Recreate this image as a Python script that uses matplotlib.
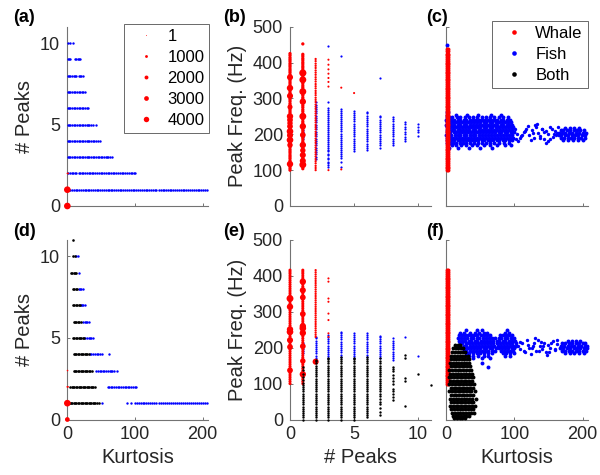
import numpy as np
import matplotlib
matplotlib.use('Agg')
import matplotlib.pyplot as plt
from matplotlib.lines import Line2D

plt.rcParams['font.family'] = ['Liberation Sans', 'DejaVu Sans']

RED, BLUE, BLACK = '#ff0000', '#0000ff', '#000000'

# ---------------- (a) # peaks vs kurtosis ----------------
a_fish_peaks = [1, 2, 3, 4, 5, 6, 7, 8, 9, 10]
a_fish_kurt = [
    [3, 5, 8, 10, 13, 15, 18, 20, 23, 26, 28, 31, 33, 36, 38, 41, 44, 46, 49, 51, 54, 57, 60, 62, 65, 67,
     70, 73, 75, 78, 80, 83, 86, 89, 91, 94, 97, 99, 102, 105, 108, 110, 113, 116, 118, 121, 124, 127, 130,
     132, 135, 138, 141, 143, 146, 149, 152, 154, 157, 160, 162, 165, 168, 171, 173, 176, 179, 182, 184,
     187, 190, 193, 195, 198, 201, 204, 206],
    [2, 4, 7, 9, 12, 14, 17, 19, 22, 24, 27, 29, 32, 34, 37, 39, 42, 44, 47, 50, 52, 55, 57, 60, 62, 65,
     68, 70, 73, 75, 78, 81, 83, 86, 88, 91, 94, 96, 99, 101],
    [1, 3, 5, 8, 10, 12, 15, 17, 19, 22, 24, 26, 29, 31, 33, 36, 38, 40, 43, 45, 47, 50, 52, 54, 57, 59,
     61, 64, 66],
    [1, 3, 5, 8, 10, 12, 15, 17, 19, 22, 24, 26, 29, 31, 33, 36, 38, 40, 43, 45, 48],
    [1, 3, 5, 8, 10, 12, 15, 17, 19, 22, 24, 26, 29, 31, 33, 36, 38, 43],
    [1, 3, 5, 8, 10, 12, 15, 17, 19, 22, 24, 26, 29, 31],
    [1, 3, 5, 8, 10, 12, 15, 17, 19, 22, 24, 26],
    [1, 3, 5, 8, 10, 12, 14, 17, 19, 21, 23],
    [1, 3, 4, 12, 14, 16, 18, 19],
    [1, 4, 9],
]
a_whale_kurt = [0.5, 0.5, 0.6, 1.8]
a_whale_peaks = [0, 1, 2, 2]
a_whale_count = [6000, 6000, 250, 250]

# ---------------- (b) peak freq vs # peaks ----------------
b_fish_peaks = [1, 2, 3, 4, 5, 6, 7, 8, 9, 10]
b_fish_hz = [
    [186, 192, 198, 205, 211],
    [132, 138, 145, 151, 157, 163, 170, 176, 182, 188, 195, 201, 207, 214, 220, 226, 233, 239, 245, 251,
     258, 264, 270, 277, 283, 290],
    [108, 113, 119, 124, 130, 135, 141, 146, 152, 157, 163, 168, 174, 179, 185, 190, 196, 201, 207, 212,
     218, 223, 229, 234, 240, 245, 251, 256, 262, 267, 272, 289, 447],
    [110, 124, 133, 139, 145, 150, 156, 162, 168, 173, 179, 185, 191, 196, 202, 208, 214, 219, 225, 231,
     237, 242, 248, 254, 260, 265, 270, 417],
    [152, 158, 164, 170, 176, 182, 188, 194, 200, 206, 212, 218, 224, 230, 236, 242, 248, 254, 260, 266],
    [156, 162, 168, 174, 180, 186, 192, 198, 204, 210, 216, 222, 228, 234, 240, 246, 252, 258, 261],
    [163, 169, 175, 181, 187, 193, 199, 205, 211, 217, 223, 229, 235, 241, 247, 250, 357],
    [170, 176, 182, 188, 194, 200, 206, 212, 218, 224, 230, 236, 242, 248],
    [180, 186, 193, 200, 207, 214, 221, 228, 235],
    [196, 205, 213, 221, 229],
]
b_whale_peaks = [0, 1, 2, 3, 4, 5]
b_whale_hz = [
    [100, 105, 110, 116, 121, 126, 132, 137, 142, 148, 153, 158, 164, 169, 174, 180, 185, 190, 196, 201,
     206, 212, 217, 222, 228, 233, 238, 244, 249, 254, 260, 265, 270, 276, 281, 286, 292, 297, 302, 308,
     313, 318, 324, 329, 334, 340, 345, 350, 356, 361, 366, 372, 377, 382, 388, 393, 398, 404, 409, 414,
     420, 425],
    [104, 110, 115, 121, 126, 132, 137, 143, 148, 154, 159, 165, 170, 176, 181, 187, 192, 198, 203, 209,
     214, 220, 225, 231, 236, 242, 247, 253, 258, 264, 269, 275, 280, 286, 291, 297, 302, 308, 313, 319,
     324, 330, 335, 341, 346, 352, 357, 363, 368, 374, 379, 385, 390, 396, 401, 407, 412, 418, 423, 452],
    [100, 106, 112, 119, 125, 131, 138, 144, 150, 157, 163, 169, 176, 182, 188, 195, 201, 207, 214, 220,
     226, 233, 239, 245, 252, 258, 264, 271, 277, 283, 290, 296, 302, 309, 315, 321, 328, 334, 340, 347,
     353, 359, 366, 372, 378, 385, 391, 397, 404, 410],
    [100, 333, 346, 357, 369, 381, 394, 408],
    [102, 330],
    [315],
]
b_whale_small_count = [1400, 1400, 600, 500, 500, 500]
b_big_peaks = [0] * 13 + [1] * 12
b_big_hz = [117, 170, 184, 197, 208, 222, 231, 240, 250, 276, 307, 329, 359,
            115, 126, 142, 155, 170, 198, 222, 250, 291, 319, 352, 371]
b_big_count = [5500, 4000, 6000, 5000, 6000, 4500, 4000, 4500, 5500, 3500, 5000, 5500, 5000,
               6500, 5000, 5000, 4000, 5500, 4500, 5500, 6500, 5500, 6500, 6500, 7000]

# ---------------- (c) peak freq vs kurtosis ----------------
c_whale_kurt = [0.8, 2.2]
c_whale_hz = [100, 105, 110, 115, 120, 125, 130, 135, 140, 145, 150, 155, 160, 165, 170, 175, 180, 185,
              190, 195, 200, 205, 210, 215, 220, 225, 230, 235, 240, 245, 250, 255, 260, 265, 270, 275,
              280, 285, 290, 295, 300, 305, 310, 315, 320, 325, 330, 335, 340, 345, 350, 355, 360, 365,
              370, 375, 380, 385, 390, 395, 400, 405, 410, 415, 420, 425, 431, 437]
c_fish_rows_hz = [450, 262, 254, 247, 240, 233, 226, 219, 212, 205, 198, 191, 184, 177, 170, 162,
                  218, 211, 204, 197, 190, 183]
c_fish_rows_kurt = [
    [1],
    [1.5, 3],
    [2, 14, 31, 47, 66, 80],
    [1, 5, 9, 16, 21, 28, 34, 40, 46, 53, 58, 64, 70, 77, 84, 91],
    [0.5, 4, 8, 12, 17, 21, 26, 30, 35, 39, 44, 48, 53, 57, 62, 66, 71, 75, 80, 84, 89, 94],
    [2, 6, 10, 14, 19, 23, 28, 32, 37, 41, 46, 50, 55, 59, 64, 68, 73, 77, 82, 86, 91, 95],
    [0.5, 4, 8, 12, 17, 21, 26, 30, 35, 39, 44, 48, 53, 57, 62, 66, 71, 75, 80, 84, 89, 93, 97],
    [2, 6, 10, 14, 19, 23, 28, 32, 37, 41, 46, 50, 55, 59, 64, 68, 73, 77, 82, 86, 91, 95, 98],
    [1, 4, 9, 12, 17, 21, 25, 30, 34, 39, 43, 48, 52, 57, 61, 66, 70, 75, 79, 84, 88, 93, 97],
    [2, 6, 11, 15, 19, 24, 28, 32, 37, 41, 45, 50, 54, 59, 63, 68, 72, 77, 81, 86, 90, 95, 99],
    [0.5, 4, 8, 13, 17, 21, 26, 30, 35, 39, 43, 48, 52, 57, 61, 66, 70, 74, 79, 83, 88, 92, 97],
    [2, 6, 10, 15, 19, 23, 28, 32, 36, 41, 45, 50, 54, 59, 63, 67, 72, 76, 81, 85, 90, 94, 98],
    [1, 4, 8, 12, 17, 21, 25, 30, 34, 38, 43, 47, 52, 56, 61, 65, 69, 74, 78, 83, 87, 92, 96],
    [2, 6, 10, 15, 20, 25, 30, 35, 41, 47, 53, 59, 65, 71, 78, 85, 92],
    [3, 9, 15, 22, 30, 38, 46, 55, 64, 74, 86, 95],
    [5, 18, 33, 50, 68],
    [174, 181, 188, 195],
    [168, 172, 177, 182, 187, 192, 197, 202],
    [166, 170, 175, 180, 185, 190, 195, 200, 205],
    [165, 169, 174, 179, 184, 189, 194, 199, 204],
    [168, 173, 178, 183, 188, 193, 198, 203],
    [171, 178, 186, 194, 201],
]
c_fish_tail_kurt = [101, 103, 105, 108, 111, 114, 117, 120, 104, 110, 116, 122, 126, 129, 132, 135, 138,
                    141, 144, 147, 150, 153, 156, 159, 162, 125, 131, 137, 143, 149, 155, 161, 128, 140,
                    152, 164, 134, 146, 158]
c_fish_tail_hz = [214, 186, 180, 190, 198, 206, 215, 223, 202, 195, 208, 199, 212, 190, 221, 204, 196,
                  214, 187, 208, 200, 219, 193, 210, 204, 183, 226, 191, 205, 180, 214, 197, 204, 216,
                  188, 221, 230, 176, 202]

# ---------------- (d) # peaks vs kurtosis, with 'Both' ----------------
d_fish_peaks = [1, 2, 3, 4, 5, 6, 7, 8, 9, 10]
d_fish_kurt = [
    [52, 88, 94, 100, 103, 106, 109, 112, 114, 117, 120, 123, 126, 129, 132, 135, 138, 141, 144, 147, 150,
     153, 156, 159, 162, 165, 168, 171, 174, 177, 180, 183, 186, 189, 192, 195, 198, 201, 204, 206],
    [60, 62, 65, 67, 70, 72, 75, 77, 80, 82, 85, 87, 90, 92, 95, 97, 100, 102],
    [43, 45, 48, 50, 53, 55, 58, 60, 63, 65, 67, 69, 74],
    [34, 36, 39, 41, 44, 46, 48, 51, 62],
    [27, 29, 32, 34, 36, 39],
    [24, 26, 28, 30, 32],
    [20, 22, 24, 27],
    [17, 19, 21, 24],
    [17],
    [14, 16],
]
d_both_peaks = [1, 2, 3, 4, 5, 6, 7, 8, 9, 10, 11]
d_both_kurt = [
    [4, 6, 8, 10, 12, 14, 16, 18, 20, 22, 24, 26, 28, 30, 32, 34, 36, 38, 40, 42, 44, 47],
    [5, 7, 9, 11, 13, 15, 17, 19, 21, 23, 25, 27, 29, 31, 33, 35, 37, 39, 42],
    [10, 12, 14, 16, 18, 20, 22, 24, 26, 28, 30, 32, 34, 37],
    [10, 12, 14, 16, 18, 20, 22, 24, 26, 28, 30, 32],
    [9, 11, 13, 15, 17, 19, 21, 23, 25],
    [10, 12, 14, 16, 18, 21],
    [9, 11, 13, 15, 17, 19],
    [9, 11, 13, 15],
    [6, 8, 10, 12, 14],
    [9, 12],
    [9],
]
d_whale_kurt = [0.5, 0.5, 0.5, 1.5, 0.8]
d_whale_peaks = [0, 1, 2, 2, 3]
d_whale_count = [3000, 6000, 300, 300, 250]

# ---------------- (e) peak freq vs # peaks, with 'Both' ----------------
e_fish_peaks = [1, 2, 3, 4, 5, 6, 7, 8, 9, 10]
e_fish_hz = [
    [184, 190, 196, 202, 208, 213],
    [166, 172, 178, 184, 190, 196, 202, 208, 214, 220, 226, 231],
    [170, 176, 182, 188, 194, 200, 206, 212, 218, 224, 230, 235],
    [175, 181, 187, 193, 199, 205, 211, 217, 223, 229, 235, 241, 244],
    [170, 176, 182, 188, 194, 200, 206, 212, 218, 224, 230, 236, 242],
    [175, 181, 187, 193, 199, 205, 211, 217, 223, 229, 235, 240],
    [170, 176, 182, 188, 194, 200, 206, 212, 218, 224, 229, 232],
    [165, 171, 177, 183, 189, 195, 201, 207, 213, 219, 226],
    [231],
    [177],
]
e_both_peaks = [1, 2, 3, 4, 5, 6, 7, 8, 9, 10, 11]
e_both_hz = [
    [0, 6, 12, 18, 24, 30, 36, 42, 48, 54, 60, 66, 72, 78, 84, 90, 96, 102, 110, 118, 128, 138, 147],
    [0, 6, 12, 18, 24, 30, 36, 42, 48, 54, 60, 66, 72, 78, 84, 90, 96, 102, 108, 114, 120, 126, 132, 138,
     144, 150, 156, 162, 165],
    [0, 6, 12, 18, 24, 30, 36, 42, 48, 54, 60, 66, 72, 78, 84, 90, 96, 102, 108, 114, 120, 126, 132, 138,
     144, 150, 156, 162, 168, 170],
    [0, 6, 12, 18, 24, 30, 36, 42, 48, 54, 60, 66, 72, 78, 84, 90, 96, 102, 108, 114, 120, 126, 132, 138,
     144, 150, 156, 162, 168, 175],
    [0, 6, 12, 18, 24, 30, 36, 42, 48, 54, 60, 66, 72, 78, 84, 90, 96, 102, 108, 114, 120, 126, 132, 138,
     144, 150, 156, 162, 168, 170],
    [7, 12, 18, 24, 30, 36, 42, 48, 54, 60, 66, 72, 78, 84, 90, 96, 102, 108, 114, 120, 126, 132, 138,
     144, 150, 156, 162, 168, 175],
    [12, 22, 32, 42, 50, 58, 66, 72, 78, 84, 90, 96, 102, 108, 114, 120, 126, 132, 138, 144, 150, 156,
     162, 170],
    [54, 62, 70, 78, 86, 100, 108, 116, 124, 134, 140, 147],
    [37, 108, 116, 171, 180],
    [127],
    [96],
]
e_whale_peaks = [0, 1, 2, 3]
e_whale_hz = [
    [100, 106, 112, 118, 124, 130, 136, 142, 148, 154, 160, 166, 172, 178, 184, 190, 196, 202, 208, 214,
     220, 226, 232, 238, 244, 250, 256, 262, 268, 274, 280, 286, 292, 298, 304, 310, 316, 322, 328, 334,
     340, 346, 352, 358, 364, 370, 376, 382, 388, 394, 400, 406, 411, 416],
    [100, 106, 112, 118, 124, 130, 136, 142, 148, 154, 160, 166, 172, 178, 184, 190, 196, 202, 208, 214,
     220, 226, 232, 238, 244, 250, 256, 262, 268, 274, 280, 286, 292, 298, 304, 310, 316, 322, 328, 334,
     340, 346, 352, 358, 364, 370, 376, 382, 388, 394, 400, 406, 411, 416],
    [230, 236, 242, 248, 254, 260, 266, 272, 278, 284, 290, 296, 302, 308, 314, 320, 326, 332, 338, 344,
     350, 356, 362, 368, 374, 380, 386, 392, 398, 404, 410, 416],
    [230, 240, 277, 295, 328, 337, 384, 393],
]
e_whale_small_count = [1200, 1200, 600, 500]
e_big_peaks = [0] * 7 + [1] * 10 + [2]
e_big_hz = [137, 202, 221, 244, 251, 314, 337,
            126, 163, 204, 241, 254, 260, 294, 340, 360, 384, 161]
e_big_count = [4500, 4500, 5000, 6000, 5500, 5500, 6500,
               5500, 4000, 4500, 5500, 6000, 5500, 4500, 4500, 5000, 5500, 5000]

# ---------------- (f) peak freq vs kurtosis, with 'Both' ----------------
f_whale_kurt = [0.8, 2.2]
f_whale_hz = [100, 105, 110, 115, 120, 125, 130, 135, 140, 145, 150, 155, 160, 165, 170, 175, 180, 185,
              190, 195, 200, 205, 210, 215, 220, 225, 230, 235, 240, 245, 250, 255, 260, 265, 270, 275,
              280, 285, 290, 295, 300, 305, 310, 315, 320, 325, 330, 335, 340, 345, 350, 355, 360, 365,
              370, 375, 380, 385, 390, 395, 400, 405, 410, 416]
f_fish_rows_hz = [248, 241, 234, 227, 220, 213, 206, 199, 192, 185, 178, 170, 158, 145,
                  220, 213, 206, 199, 192, 185]
f_fish_rows_kurt = [
    [30, 46, 52, 90],
    [21, 27, 35, 43, 49, 55, 60, 87, 93],
    [19, 23, 28, 32, 37, 41, 46, 51, 55, 60, 64, 79, 84, 88, 93, 97],
    [18, 22, 27, 31, 36, 40, 45, 49, 54, 58, 63, 67, 72, 77, 81, 86, 90, 95, 99],
    [19, 24, 28, 33, 37, 42, 46, 51, 55, 60, 64, 69, 74, 78, 83, 87, 92, 96, 101],
    [20, 24, 29, 33, 38, 42, 47, 51, 56, 60, 65, 69, 74, 79, 83, 88, 92, 97, 102],
    [21, 26, 30, 35, 39, 44, 48, 53, 57, 62, 66, 71, 76, 80, 85, 89, 94, 98, 103],
    [23, 28, 32, 37, 41, 46, 50, 55, 59, 64, 68, 73, 78, 82, 87, 91, 96, 100],
    [26, 30, 35, 39, 44, 48, 53, 57, 62, 67, 72, 80, 85, 89, 94, 98],
    [29, 34, 39, 45, 50, 56, 61, 67, 83, 88, 94, 99],
    [33, 40, 47, 55, 62, 86, 94],
    [40, 52, 64],
    [52],
    [61],
    [178, 184, 190, 196],
    [170, 175, 180, 185, 190, 195, 200, 204],
    [168, 173, 178, 183, 188, 193, 198, 203, 207],
    [167, 172, 177, 182, 187, 192, 197, 202, 206],
    [170, 175, 180, 185, 190, 195, 200, 205],
    [174, 181, 188, 195, 202],
]
f_fish_tail_kurt = [106, 109, 112, 115, 118, 121, 108, 114, 120, 126, 129, 132, 135, 138, 141, 144,
                    147, 150, 153, 156, 159, 162, 124, 130, 136, 142, 148, 154, 160, 127, 139, 151, 163]
f_fish_tail_hz = [204, 196, 213, 187, 221, 200, 216, 192, 208, 199, 212, 190, 222, 204, 196, 214, 187,
                  208, 200, 219, 193, 210, 183, 226, 191, 205, 181, 214, 197, 204, 216, 188, 221]
f_both_rows_hz = [207, 198, 188, 178, 168, 158, 148, 138, 128, 118, 108, 98, 88, 78, 68, 58, 48, 38,
                  28, 18, 9, 3]
f_both_rows_kurt = [
    [13, 17, 21],
    [10, 14, 18, 22, 25],
    [9, 13, 17, 21, 25, 28],
    [8, 12, 16, 20, 24, 28, 32],
    [7, 11, 15, 19, 23, 27, 31, 34],
    [6, 10, 14, 18, 22, 26, 30, 34],
    [7, 11, 15, 19, 23, 27, 31, 35],
    [5, 9, 13, 17, 21, 25, 29, 33, 37],
    [6, 10, 14, 18, 22, 26, 30, 34, 38],
    [4, 8, 12, 16, 20, 24, 28, 32, 36, 40],
    [6, 10, 14, 18, 22, 26, 30, 34, 38],
    [5, 9, 13, 17, 21, 25, 29, 33, 37, 41],
    [7, 11, 15, 19, 23, 27, 31, 35, 39],
    [5, 9, 13, 17, 21, 25, 29, 33, 37, 42],
    [7, 11, 15, 19, 23, 27, 31, 35, 39],
    [6, 10, 14, 18, 22, 26, 30, 34, 38, 44],
    [8, 12, 16, 20, 24, 28, 32, 36, 40],
    [6, 10, 14, 18, 22, 26, 30, 34, 38, 43],
    [8, 12, 16, 20, 24, 28, 32, 36, 40],
    [9, 13, 17, 21, 25, 29, 33, 37, 41],
    [10, 14, 18, 22, 26, 30, 34],
    [12, 16, 20, 24, 28],
]

legend_counts = [1, 1000, 2000, 3000, 4000]


def expand(levels, groups, vertical=False):
    # one level per group; vertical -> level on x, values on y
    xs, ys = [], []
    for lev, vals in zip(levels, groups):
        for v in vals:
            if vertical:
                xs.append(lev); ys.append(v)
            else:
                xs.append(v); ys.append(lev)
    return np.array(xs, float), np.array(ys, float)


def expand_sized(levels, groups, counts):
    # same as expand(vertical=True) but carries a count per group
    xs, ys, cs = [], [], []
    for lev, vals, c in zip(levels, groups, counts):
        for v in vals:
            xs.append(lev); ys.append(v); cs.append(c)
    return np.array(xs, float), np.array(ys, float), np.array(cs, float)


def csize(c):
    return 0.4 + np.asarray(c, float) * 15.0 / 4000.0


def dots(ax, x, y, color, s):
    ax.scatter(x, y, s=s, c=color, marker='o', linewidths=0, clip_on=False, zorder=3)


fig = plt.figure(figsize=(6, 4.75), dpi=100)


def make_ax(l, t, r, b):
    return fig.add_axes([l / 600, 1 - b / 475, (r - l) / 600, (b - t) / 475])


def style(ax, xlim, ylim, xticks, yticks, xlab=True, ylab=True):
    ax.set_xlim(*xlim)
    ax.set_ylim(*ylim)
    ax.set_xticks(xticks)
    ax.set_yticks(yticks)
    for side in ['top', 'right']:
        ax.spines[side].set_visible(False)
    for side in ['left', 'bottom']:
        ax.spines[side].set_color('0.45')
        ax.spines[side].set_linewidth(0.8)
    ax.tick_params(direction='in', length=2.5, width=0.7, color='0.45', labelsize=13,
                   labelcolor='0.15', pad=5)
    if not xlab:
        ax.set_xticklabels([])
    if not ylab:
        ax.set_yticklabels([])


ax_a = make_ax(67, 26.7, 208, 206)
ax_b = make_ax(290, 26.7, 431, 206)
ax_c = make_ax(446, 26.7, 588, 206)
ax_d = make_ax(67, 240, 208, 419.5)
ax_e = make_ax(290, 240, 431, 419.5)
ax_f = make_ax(446, 240, 588, 419.5)

CLOUD = 8

# (a)
x, y = expand(a_fish_peaks, a_fish_kurt)
dots(ax_a, x, y, BLUE, 3)
dots(ax_a, a_whale_kurt, a_whale_peaks, RED, csize(a_whale_count))
style(ax_a, (0, 208), (0, 11), [0, 100, 200], [0, 5, 10], xlab=False)
ax_a.set_ylabel('# Peaks', fontsize=14.5, color='0.15', labelpad=4)

# (b)
x, y = expand(b_fish_peaks, b_fish_hz, vertical=True)
dots(ax_b, x, y, BLUE, 2.5)
x, y, c = expand_sized(b_whale_peaks, b_whale_hz, b_whale_small_count)
dots(ax_b, x, y, RED, csize(c))
dots(ax_b, b_big_peaks, b_big_hz, RED, csize(b_big_count))
style(ax_b, (0, 11), (0, 500), [0, 5, 10], range(0, 501, 100), xlab=False)
ax_b.set_ylabel('Peak Freq. (Hz)', fontsize=14.5, color='0.15', labelpad=4)

# (c)
x, y = expand(c_fish_rows_hz, c_fish_rows_kurt)
dots(ax_c, x, y, BLUE, CLOUD)
dots(ax_c, c_fish_tail_kurt, c_fish_tail_hz, BLUE, 6)
x, y = expand(c_whale_kurt, [c_whale_hz, c_whale_hz], vertical=True)
dots(ax_c, x, y, RED, CLOUD)
style(ax_c, (0, 208), (0, 500), [0, 100, 200], range(0, 501, 100), xlab=False, ylab=False)

# (d)
x, y = expand(d_fish_peaks, d_fish_kurt)
dots(ax_d, x, y, BLUE, 3)
x, y = expand(d_both_peaks, d_both_kurt)
dots(ax_d, x, y, BLACK, 3.5)
dots(ax_d, d_whale_kurt, d_whale_peaks, RED, csize(d_whale_count))
style(ax_d, (0, 208), (0, 11), [0, 100, 200], [0, 5, 10])
ax_d.set_ylabel('# Peaks', fontsize=14.5, color='0.15', labelpad=4)
ax_d.set_xlabel('Kurtosis', fontsize=14.5, color='0.15', labelpad=3)

# (e)
x, y = expand(e_fish_peaks, e_fish_hz, vertical=True)
dots(ax_e, x, y, BLUE, 2.5)
x, y, c = expand_sized(e_whale_peaks, e_whale_hz, e_whale_small_count)
dots(ax_e, x, y, RED, csize(c))
dots(ax_e, e_big_peaks, e_big_hz, RED, csize(e_big_count))
x, y = expand(e_both_peaks, e_both_hz, vertical=True)
dots(ax_e, x, y, BLACK, 3)
style(ax_e, (0, 11), (0, 500), [0, 5, 10], range(0, 501, 100))
ax_e.set_ylabel('Peak Freq. (Hz)', fontsize=14.5, color='0.15', labelpad=4)
ax_e.set_xlabel('# Peaks', fontsize=14.5, color='0.15', labelpad=3)

# (f)
x, y = expand(f_fish_rows_hz, f_fish_rows_kurt)
dots(ax_f, x, y, BLUE, CLOUD)
dots(ax_f, f_fish_tail_kurt, f_fish_tail_hz, BLUE, 6)
x, y = expand(f_whale_kurt, [f_whale_hz, f_whale_hz], vertical=True)
dots(ax_f, x, y, RED, CLOUD)
x, y = expand(f_both_rows_hz, f_both_rows_kurt)
dots(ax_f, x, y, BLACK, CLOUD)
style(ax_f, (0, 208), (0, 500), [0, 100, 200], range(0, 501, 100), ylab=False)
ax_f.set_xlabel('Kurtosis', fontsize=14.5, color='0.15', labelpad=3)

# legends
size_handles = [Line2D([], [], ls='none', marker='o', ms=np.sqrt(csize(c)), mfc=RED, mec='none')
                for c in legend_counts]
leg = ax_a.legend(size_handles, [str(c) for c in legend_counts], loc='upper left',
                  bbox_to_anchor=(124 / 600, 1 - 24 / 475), bbox_transform=fig.transFigure,
                  fontsize=12, frameon=True, fancybox=False, borderpad=0.3, labelspacing=0.36,
                  handlelength=2.0, handletextpad=0.3, borderaxespad=0)
leg.get_frame().set_edgecolor('0.15')
leg.get_frame().set_linewidth(0.6)
leg.set_zorder(5)

cls_handles = [Line2D([], [], ls='none', marker='o', ms=3.3, mfc=col, mec='none')
               for col in (RED, BLUE, BLACK)]
leg = ax_c.legend(cls_handles, ['Whale', 'Fish', 'Both'], loc='upper left',
                  bbox_to_anchor=(492 / 600, 1 - 21 / 475), bbox_transform=fig.transFigure,
                  fontsize=12, frameon=True, fancybox=False, borderpad=0.3, labelspacing=0.36,
                  handlelength=2.0, handletextpad=0.3, borderaxespad=0)
leg.get_frame().set_edgecolor('0.15')
leg.get_frame().set_linewidth(0.6)
leg.set_zorder(5)

# panel letters
for lbl, px, py in [('(a)', 13, 17), ('(b)', 223, 17), ('(c)', 426, 17),
                    ('(d)', 13, 232), ('(e)', 223, 232), ('(f)', 426, 232)]:
    fig.text(px / 600, 1 - py / 475, lbl, fontsize=13, fontweight='bold', va='center', ha='left')

fig.savefig('out.png', dpi=100)
